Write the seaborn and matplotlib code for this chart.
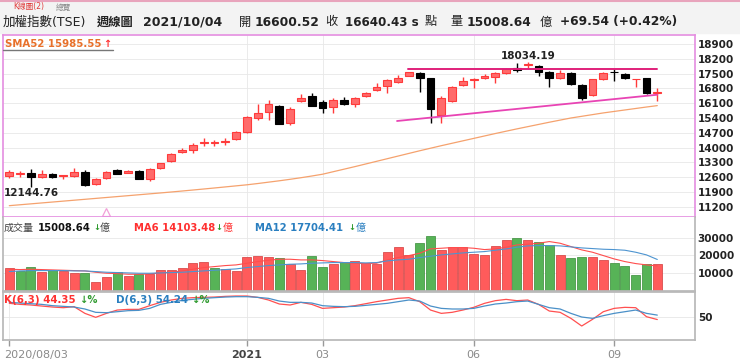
import matplotlib
matplotlib.use("Agg")
import matplotlib.pyplot as plt
from matplotlib.lines import Line2D
from matplotlib.patches import Rectangle
import numpy as np
import pandas as pd
import seaborn as sns

W, H = 740, 363

# 週線 2020/08/03 ~ 2021/10/04, 一根 = 一週
opens = [12672, 12751, 12814, 12625, 12751, 12672, 12672, 12861, 12278, 12546,
         12940, 12814, 12893, 12499, 13019, 13366, 13791, 13886, 14201, 14220,
         14249, 14391, 14740, 15384, 15699, 15983, 15147, 16204, 16456, 16141,
         15936, 16251, 16062, 16440, 16724, 16929, 17118, 17402, 17544, 17276,
         15541, 16220, 16961, 17197, 17276, 17355, 17512, 17781, 17891, 17859,
         17560, 17276, 17544, 16961, 16488, 17244, 17591, 17497, 17229, 17276,
         16600.52]
highs = [12940, 12909, 12972, 12940, 12814, 12700, 13019, 12940, 12546, 12893,
         12972, 12940, 12940, 13019, 13287, 13728, 13965, 14201, 14438, 14359,
         14438, 14785, 15500, 16062, 16251, 16015, 15904, 16535, 16598, 16251,
         16330, 16409, 16409, 16645, 17039, 17229, 17434, 17591, 17560, 17307,
         16440, 16913, 17323, 17276, 17465, 17591, 17781, 18017, 18034.19, 17907,
         17639, 17670, 17560, 16992, 17260, 17576, 17702, 17544, 17250, 17307,
         16803]
lows = [12546, 12593, 12144.76, 12546, 12546, 12499, 12625, 12160, 12231, 12499,
        12735, 12783, 12499, 12435, 12972, 13334, 13728, 13728, 14075, 14075,
        14123, 14359, 14700, 15305, 15305, 15100, 15069, 16172, 15950, 15620,
        15652, 16015, 15936, 16409, 16693, 16567, 17039, 17386, 16645, 15147,
        15147, 16172, 16913, 16803, 17229, 17039, 17497, 17591, 17749, 17386,
        16882, 17244, 16961, 16251, 16456, 17197, 17150, 17244, 16882, 16519,
        16204]
closes = [12830, 12814, 12593, 12751, 12625, 12688, 12861, 12231, 12514, 12861,
          12751, 12909, 12514, 12972, 13256, 13697, 13886, 14123, 14249, 14249,
          14312, 14722, 15463, 15652, 16062, 15116, 15825, 16362, 15967, 15857,
          16251, 16062, 16330, 16598, 16850, 17197, 17307, 17560, 17307, 15809,
          16330, 16882, 17150, 17229, 17386, 17544, 17717, 17670, 17954, 17591,
          17276, 17512, 17008, 16330, 17229, 17544, 17560, 17276, 17244, 16567,
          16640.43]
sma52 = [11253, 11296, 11339, 11382, 11425, 11468, 11511, 11554, 11597, 11640,
         11683, 11726, 11769, 11812, 11855, 11900, 11946, 11993, 12041, 12090,
         12140, 12190, 12240, 12300, 12365, 12430, 12500, 12575, 12655, 12740,
         12860, 12980, 13100, 13225, 13350, 13475, 13600, 13725, 13850, 13970,
         14090, 14205, 14320, 14435, 14550, 14665, 14775, 14885, 14990, 15095,
         15200, 15300, 15400, 15480, 15560, 15640, 15710, 15780, 15850, 15920,
         15985.55]

# 成交量 (億)
volume = [12785, 11286, 13721, 10724, 11848, 11474, 10163, 10350, 5293, 7728,
          10537, 8665, 9414, 9601, 11848, 11848, 12973, 15594, 16157, 12973,
          12411, 11286, 18965, 19902, 18965, 18404, 15032, 11848, 19902, 13721,
          15219, 16157, 16906, 15700, 15219, 22150, 24772, 20464, 27040, 31140,
          22900, 24960, 24960, 20838, 20464, 25146, 28518, 30016, 28705, 27394,
          25896, 20277, 18779, 18965, 18965, 17654, 15968, 14283, 8852, 15406,
          15008.64]
vol_dir = list("rggrgrrgrrgrgrrrrrrgrrrrrgrrggrgrrrrrrggrrrrrrrgrggrggrrggggr")
ma6 = [12223, 12036, 12223, 12036, 11848, 11660, 11474, 11286, 10537, 9975,
       9788, 9414, 9414, 9601, 10163, 10537, 11286, 12223, 13160, 13721,
       14283, 14658, 15594, 16531, 17280, 17842, 17842, 17467, 17467, 17092,
       16531, 15969, 15594, 15407, 15594, 17467, 18779, 19902, 21214, 23648,
       24023, 24398, 24398, 24023, 23274, 23648, 24585, 25896, 26271, 26833,
       27769, 26833, 24960, 23087, 21776, 19902, 18030, 16531, 15407, 14658,
       14103.48]
ma12 = [10912, 11286, 11474, 11474, 11474, 11474, 11286, 11286, 10912, 10537,
        10350, 10163, 9975, 9975, 10163, 10350, 10537, 10912, 11286, 11660,
        12036, 12411, 13160, 13721, 14283, 14658, 15032, 15219, 15594, 15781,
        15969, 15969, 15969, 15781, 15969, 16906, 17467, 17842, 18779, 19527,
        20277, 20838, 21401, 21776, 22150, 22900, 23648, 24585, 25334, 25522,
        25522, 25334, 24772, 24210, 23835, 23461, 23274, 22900, 21776, 20277,
        17704.41]

# KD(6,3)
k_line = [80.4, 78.1, 76.7, 74.4, 72.2, 70.7, 73.0, 58.1, 49.3, 58.1,
          65.5, 67.0, 67.0, 75.2, 82.6, 87.8, 91.5, 93.0, 93.7, 94.4,
          95.9, 96.7, 96.7, 93.7, 87.8, 78.9, 76.7, 82.6, 78.1, 69.2,
          70.7, 72.2, 75.2, 79.6, 84.1, 87.8, 91.5, 93.0, 84.1, 65.5,
          58.1, 60.4, 65.5, 71.5, 80.4, 86.3, 89.2, 86.3, 87.8, 78.1,
          63.3, 60.4, 47.0, 30.0, 44.8, 61.8, 69.2, 71.5, 70.7, 50.7,
          44.35]
d_line = [82.6, 81.1, 79.6, 78.1, 75.2, 73.7, 72.2, 67.8, 60.4, 59.6,
          61.8, 64.1, 64.8, 69.2, 78.1, 82.6, 87.0, 89.3, 91.5, 93.0,
          94.4, 95.2, 95.2, 93.7, 91.5, 85.5, 82.6, 82.6, 81.1, 75.2,
          73.7, 73.0, 73.7, 75.9, 78.1, 80.4, 84.1, 87.8, 85.5, 74.4,
          69.2, 67.8, 67.8, 69.2, 74.4, 78.9, 81.1, 84.1, 85.5, 78.1,
          70.7, 67.8, 58.1, 50.0, 47.0, 53.0, 58.1, 61.8, 65.5, 58.1,
          54.24]

# 趨勢線 (週, 指數)
trend_top_x = [36.9, 60.0]
trend_top_y = [17717, 17717]
trend_low_x = [35.9, 60.0]
trend_low_y = [15258, 16500]
event_weeks = [9]

tick_weeks = [0, 22, 29, 43, 56]
tick_labels = ['', '2021', '03', '06', '09']
first_label = '2020/08/03'

df = pd.DataFrame({'open': opens, 'high': highs, 'low': lows, 'close': closes,
                   'sma52': sma52, 'volume': volume, 'vol_dir': vol_dir,
                   'ma6': ma6, 'ma12': ma12, 'k': k_line, 'd': d_line})
df['week'] = np.arange(len(df))

sns.set_theme(style="white")
plt.rcParams['font.family'] = ['DejaVu Sans', 'Noto Sans CJK TC']

fig = plt.figure(figsize=(W / 100, H / 100), dpi=100, facecolor='white')


def box(x0, y0, x1, y1):
    return [x0 / W, 1 - y1 / H, (x1 - x0) / W, (y1 - y0) / H]


def put(x, y, s, color='#222222', size=8, weight='normal'):
    fig.text(x / W, 1 - y / H, s, color=color, fontsize=size,
             fontweight=weight, va='center', ha='left')


XLIM = (-0.583, 63.49)
RED = '#ff3030'
GREEN = '#2e9a2e'
BLUE = '#2a7fc0'

# 上方標題區
fig.add_artist(Rectangle((0, 1 - 33 / H), 1, 33 / H, transform=fig.transFigure,
                         color='#f3f3f3', zorder=-5))
fig.add_artist(Line2D([0, 1], [1 - 0.8 / H] * 2, transform=fig.transFigure,
                      color='#e8a4bc', lw=1.5))
put(13, 7, 'K線圖(2)', color='#e03a3a', size=5.5)
put(56, 7, '總覽', color='#8a8a8a', size=5.5)

put(3, 22, '加權指數(TSE)', color='#222222', size=9)
put(97, 22, '週線圖', color='#222222', size=8.8, weight='bold')
put(143, 22, '2021/10/04', size=9, weight='bold')
put(239, 22, '開', size=8.8)
put(255, 22, '16600.52', size=8.8, weight='bold')
put(325, 22, '收', size=8.8)
put(345, 22, '16640.43 s', size=8.6, weight='bold')
put(425, 22, '點', size=8.8)
put(450, 22, '量', size=8.8)
put(467, 22, '15008.64', size=8.8, weight='bold')
put(540, 22, '億', size=8.8)
put(560, 22, '+69.54 (+0.42%)', size=8.8, weight='bold')

# K線
ax = fig.add_axes(box(3, 35, 695, 217))
up = df['close'] >= df['open']
body_lo = df[['open', 'close']].min(axis=1)
body_h = (df['close'] - df['open']).abs()
fill = np.where(up, '#ff6b6b', '#000000')
edge = np.where(up, '#ff3b3b', '#000000')
ax.vlines(df['week'], df['low'], df['high'], colors=edge, lw=1.0, zorder=3)
ax.bar(df['week'], body_h, bottom=body_lo, width=0.72, color=fill,
       edgecolor=edge, lw=0.8, zorder=4)
sns.lineplot(data=df, x='week', y='sma52', color='#f5a26e', lw=0.9, ax=ax, zorder=2)
ax.plot(trend_top_x, trend_top_y, color='#e0207a', lw=1.4, zorder=5)
ax.plot(trend_low_x, trend_low_y, color='#e844b4', lw=1.3, zorder=5)
ax.plot(event_weeks, [0.03] * len(event_weeks), marker='^', ms=6, mfc='none',
        mec='#f2a0d8', mew=0.9, ls='none', transform=ax.get_xaxis_transform(),
        clip_on=False)

hi = df['high'].idxmax()
lo = df['low'].idxmin()
ax.annotate(f"{df['high'][hi]:.2f}", (hi, df['high'][hi]), xytext=(0, 1),
            textcoords='offset points', ha='center', va='bottom',
            fontsize=7.5, fontweight='bold', color='#222222')
ax.annotate(f"{df['low'][lo]:.2f}", (lo, df['low'][lo]), xytext=(0, -1),
            textcoords='offset points', ha='center', va='top',
            fontsize=7.5, fontweight='bold', color='#222222')

ax.set_xlim(*XLIM)
ax.set_ylim(10717, 19326)
ax.yaxis.tick_right()
ax.set_yticks(range(11200, 19000, 700))
ax.set_xticks(tick_weeks[1:])
ax.tick_params(axis='x', length=0, labelbottom=False)
ax.tick_params(axis='y', length=0, pad=2, labelsize=7.5, labelcolor='#222222')
for t in ax.get_yticklabels():
    t.set_fontweight('bold')
ax.grid(True, color='#e8e8e8', lw=0.6)
ax.set_xlabel('')
ax.set_ylabel('')
for s in ax.spines.values():
    s.set_color('#e48ee0')
    s.set_linewidth(1.2)

put(5, 44, 'SMA52 15985.55', color='#e8702a', size=7.3, weight='bold')
put(103, 44, '↑', color=RED, size=7, weight='bold')
fig.add_artist(Line2D([3 / W, 113 / W], [1 - 50 / H] * 2, transform=fig.transFigure,
                      color='#777777', lw=1.0))

# 成交量
axv = fig.add_axes(box(3, 217, 695, 291))
sns.barplot(data=df, x='week', y='volume', hue='vol_dir',
            palette={'r': '#ff5b5b', 'g': '#57b357'}, native_scale=True,
            dodge=False, legend=False, width=0.82, saturation=1,
            errorbar=None, ax=axv)
for p in axv.patches:
    r, g, b, a = p.get_facecolor()
    p.set_edgecolor((r * 0.85, g * 0.85, b * 0.85, 1))
    p.set_linewidth(0.6)
sns.lineplot(data=df, x='week', y='ma6', color='#ff4d4d', lw=0.8, ax=axv)
sns.lineplot(data=df, x='week', y='ma12', color='#4d94d0', lw=0.8, ax=axv)
axv.set_xlim(*XLIM)
axv.set_ylim(0, 41570)
axv.yaxis.tick_right()
axv.set_yticks([10000, 20000, 30000])
axv.set_xticks(tick_weeks[1:])
axv.tick_params(axis='x', length=0, labelbottom=False)
axv.tick_params(axis='y', length=0, pad=2, labelsize=7.5, labelcolor='#222222')
for t in axv.get_yticklabels():
    t.set_fontweight('bold')
axv.grid(True, color='#e8e8e8', lw=0.6)
axv.set_xlabel('')
axv.set_ylabel('')
axv.spines['top'].set_visible(False)
for k in ['left', 'right', 'bottom']:
    axv.spines[k].set_color('#b8b8b8')

put(4, 228, '成交量', color='#444444', size=7.2)
put(38, 228, '15008.64', color='#111111', size=7.2, weight='bold')
put(93, 228, '↓', color=GREEN, size=6, weight='bold')
put(100, 228, '億', color='#444444', size=7.2)
put(134, 228, 'MA6 14103.48', color=RED, size=7.2, weight='bold')
put(215, 228, '↓', color=GREEN, size=6, weight='bold')
put(223, 228, '億', color=RED, size=7.2)
put(255, 228, 'MA12 17704.41', color=BLUE, size=7.2, weight='bold')
put(348, 228, '↓', color=GREEN, size=6, weight='bold')
put(356, 228, '億', color=BLUE, size=7.2)

# KD
axk = fig.add_axes(box(3, 292, 695, 340))
sns.lineplot(data=df, x='week', y='k', color='#ff5050', lw=0.9, ax=axk)
sns.lineplot(data=df, x='week', y='d', color='#4a90c8', lw=0.9, ax=axk)
axk.set_xlim(*XLIM)
axk.set_ylim(-1.1, 105.6)
axk.yaxis.tick_right()
axk.set_yticks([50])
axk.tick_params(axis='y', length=0, pad=2, labelsize=7.5, labelcolor='#222222')
for t in axk.get_yticklabels():
    t.set_fontweight('bold')
axk.set_xticks(tick_weeks)
axk.set_xticklabels(tick_labels)
axk.tick_params(axis='x', length=4, width=1, color='#999999', pad=3,
                labelsize=8, labelcolor='#8a8a8a', bottom=True)
xl = axk.get_xticklabels()
xl[1].set_fontweight('bold')
xl[1].set_color('#444444')
axk.grid(True, color='#e6e6e6', lw=0.6)
axk.set_xlabel('')
axk.set_ylabel('')
for s in axk.spines.values():
    s.set_color('#b8b8b8')
put(4, 355, first_label, color='#8a8a8a', size=8)

put(4, 300, 'K(6,3) 44.35', color=RED, size=7.4, weight='bold')
put(79, 300, '↓%', color=GREEN, size=7.2, weight='bold')
put(116, 300, 'D(6,3) 54.24', color=BLUE, size=7.4, weight='bold')
put(191, 300, '↓%', color=GREEN, size=7.2, weight='bold')

fig.savefig('out.png', dpi=100, facecolor=fig.get_facecolor())
